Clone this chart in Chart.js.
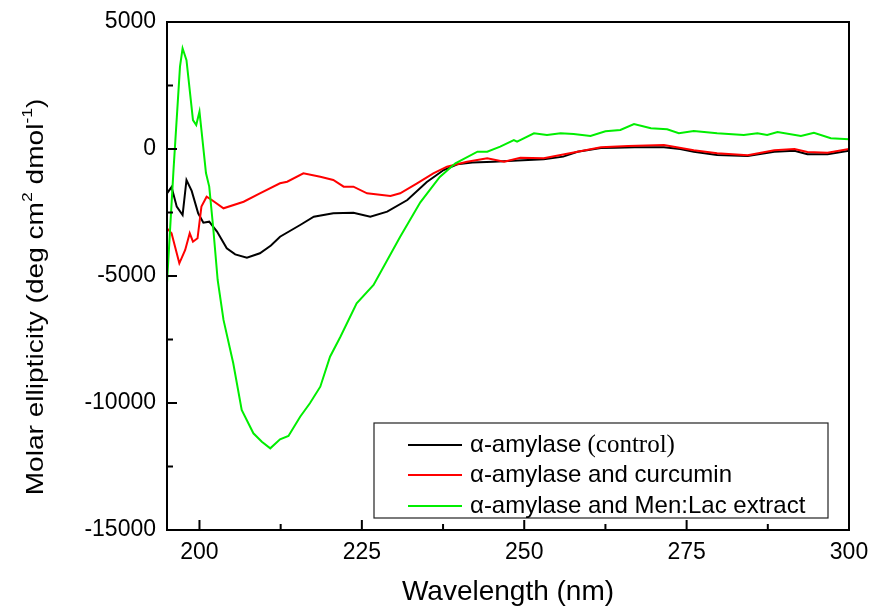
<!DOCTYPE html>
<html>
<head>
<meta charset="utf-8">
<script src="https://cdn.jsdelivr.net/npm/chart.js@4.4.1/dist/chart.umd.min.js"></script>
<style>
html,body{margin:0;padding:0;background:#fff;}
#wrap{width:872px;height:609px;}
</style>
</head>
<body>
<div id="wrap"><canvas id="c" width="872" height="609"></canvas></div>
<script>
// ---- data ----
const controlX = [195.0,195.7,196.5,197.4,198.0,198.8,199.8,200.6,201.5,202.7,204.2,205.5,207.3,209.3,211.0,212.4,215.5,217.6,220.6,223.7,226.3,228.9,232.0,235.0,237.6,239.7,242.0,245.3,249.0,253.0,256.0,258.2,261.8,264.0,267.0,271.5,274.0,276.1,279.7,284.4,288.5,291.6,293.6,296.7,300.0];
const controlY = [-1744,-1500,-2270,-2598,-1220,-1650,-2532,-2900,-2862,-3250,-3909,-4150,-4279,-4106,-3800,-3452,-2992,-2665,-2532,-2508,-2665,-2468,-2008,-1300,-827,-600,-530,-500,-450,-407,-300,-106,40,50,67,67,0,-106,-236,-276,-106,-67,-209,-209,-67];

const curcuminX = [195.0,195.7,196.9,197.8,198.5,199.0,199.7,200.3,201.1,201.9,203.7,206.8,209.3,212.4,213.5,216.0,218.6,220.6,222.2,223.7,225.8,229.4,230.9,233.5,236.0,238.1,241.2,244.3,246.9,249.4,253.0,258.2,261.8,266.0,271.5,276.1,279.7,284.4,288.5,291.6,293.6,296.7,300.0];
const curcuminY = [-3122,-3319,-4500,-3976,-3319,-3650,-3516,-2270,-1878,-2008,-2335,-2075,-1744,-1350,-1287,-957,-1090,-1220,-1484,-1484,-1744,-1850,-1744,-1350,-957,-697,-500,-367,-500,-342,-367,-106,67,120,157,-50,-170,-250,-50,0,-120,-150,0];

const menlacX = [195.0,196.0,197.0,197.4,198.0,199.0,199.5,200.0,200.3,201.0,201.5,202.1,202.8,203.7,205.2,206.5,208.3,209.6,210.9,212.4,213.7,215.5,217.0,218.6,220.1,221.7,224.2,226.8,230.9,234.0,235.5,237.0,239.4,242.8,244.3,246.3,248.4,248.9,251.5,253.5,255.6,257.6,260.2,262.5,264.8,266.9,269.5,272.0,273.8,276.1,279.7,283.8,285.9,287.4,289.0,292.6,294.6,297.2,300.0];
const menlacY = [-5275,-830,3240,3965,3500,1140,945,1470,750,-945,-1480,-3060,-5157,-6730,-8437,-10276,-11193,-11523,-11784,-11430,-11299,-10540,-10012,-9358,-8177,-7390,-6075,-5350,-3452,-2100,-1600,-1100,-563,-106,-106,91,354,287,618,551,618,590,512,700,748,984,814,774,618,709,618,551,618,551,669,512,642,421,382];

const seriesNames = ['\u03b1-amylase', '\u03b1-amylase and curcumin', '\u03b1-amylase and Men:Lac extract'];
const seriesSuffix = [' (control)', '', ''];
const seriesColors = ['#000000', '#ff0000', '#00ee00'];

const xTicks = [200, 225, 250, 275, 300];
const xMinorTicks = [212.5, 237.5, 262.5, 287.5];
const yTicks = [5000, 0, -5000, -10000, -15000];
const yMinorTicks = [2500, -2500, -7500, -12500];

const SANS = '"Liberation Sans", Arial, sans-serif';
const SERIF = '"Liberation Serif", "Times New Roman", serif';

function pts(xs, ys){ return xs.map((x,i)=>({x:x, y:ys[i]})); }

const framePlugin = {
  id: 'frame',
  afterDatasetsDraw(chart){
    const ctx = chart.ctx, a = chart.chartArea;
    const xs = chart.scales.x, ys = chart.scales.y;
    ctx.save();
    ctx.strokeStyle = '#000';
    ctx.lineWidth = 2;
    ctx.strokeRect(a.left, a.top, a.right - a.left, a.bottom - a.top);
    ctx.beginPath();
    xTicks.forEach(v=>{ const p = xs.getPixelForValue(v); ctx.moveTo(p, a.bottom); ctx.lineTo(p, a.bottom - 10); });
    xMinorTicks.forEach(v=>{ const p = xs.getPixelForValue(v); ctx.moveTo(p, a.bottom); ctx.lineTo(p, a.bottom - 6); });
    yTicks.forEach(v=>{ const p = ys.getPixelForValue(v); ctx.moveTo(a.left, p); ctx.lineTo(a.left + 10, p); });
    yMinorTicks.forEach(v=>{ const p = ys.getPixelForValue(v); ctx.moveTo(a.left, p); ctx.lineTo(a.left + 6, p); });
    ctx.stroke();

    // legend box
    const bx = 374, by = 423, bw = 454, bh = 95;
    ctx.fillStyle = '#fff';
    ctx.fillRect(bx, by, bw, bh);
    ctx.lineWidth = 1.2;
    ctx.strokeStyle = '#222';
    ctx.strokeRect(bx, by, bw, bh);
    const rowsY = [445, 475, 506];
    ctx.textBaseline = 'middle';
    for (let i = 0; i < 3; i++){
      ctx.strokeStyle = seriesColors[i];
      ctx.lineWidth = 2;
      ctx.beginPath(); ctx.moveTo(408, rowsY[i]); ctx.lineTo(462, rowsY[i]); ctx.stroke();
      ctx.fillStyle = '#000';
      ctx.font = '24px ' + SANS;
      ctx.fillText(seriesNames[i], 470, rowsY[i]);
      if (seriesSuffix[i]){
        const w = ctx.measureText(seriesNames[i]).width;
        ctx.font = '25px ' + SERIF;
        ctx.fillText(seriesSuffix[i], 470 + w, rowsY[i]);
      }
    }

    // y axis title with superscripts
    const parts = [
      {t:'Molar ellipticity (deg cm', sup:false},
      {t:'2', sup:true},
      {t:' dmol', sup:false},
      {t:'-1', sup:true},
      {t:')', sup:false}
    ];
    const big = '24px ' + SANS, small = '15px ' + SANS;
    let total = 0;
    parts.forEach(p=>{ ctx.font = p.sup ? small : big; p.w = ctx.measureText(p.t).width; total += p.w; });
    ctx.translate(34, 297);
    ctx.rotate(-Math.PI/2);
    ctx.scale(1.17, 1);
    ctx.fillStyle = '#000';
    ctx.textBaseline = 'alphabetic';
    let cx = -total/2;
    parts.forEach(p=>{
      ctx.font = p.sup ? small : big;
      ctx.fillText(p.t, cx, p.sup ? -2 : 9);
      cx += p.w;
    });
    ctx.restore();
  }
};

new Chart(document.getElementById('c'), {
  type: 'line',
  data: {
    datasets: [
      {label: seriesNames[0] + seriesSuffix[0], data: pts(controlX, controlY), borderColor: seriesColors[0], borderWidth: 2, pointRadius: 0, tension: 0, order: 2},
      {label: seriesNames[1], data: pts(curcuminX, curcuminY), borderColor: seriesColors[1], borderWidth: 2, pointRadius: 0, tension: 0, order: 1},
      {label: seriesNames[2], data: pts(menlacX, menlacY), borderColor: seriesColors[2], borderWidth: 2, pointRadius: 0, tension: 0, order: 0}
    ]
  },
  options: {
    responsive: false,
    animation: false,
    layout: {padding: {left: 0, right: 23, top: 22, bottom: 0}},
    plugins: {legend: {display: false}, tooltip: {enabled: false}},
    scales: {
      x: {
        type: 'linear', min: 195, max: 300,
        afterBuildTicks: s => { s.ticks = xTicks.map(v=>({value:v})); },
        afterFit: s => { s.height = 79; s.paddingLeft = 0; s.paddingRight = 0; },
        grid: {display: false, drawTicks: false},
        border: {display: false},
        ticks: {color: '#000', font: {size: 23, family: SANS}, padding: 9, maxRotation: 0, callback: v => String(v)},
        title: {display: true, text: 'Wavelength (nm)', color: '#000', font: {size: 28, family: SANS}, padding: {top: 0, bottom: 0}}
      },
      y: {
        type: 'linear', min: -15000, max: 5000,
        afterBuildTicks: s => { s.ticks = yTicks.map(v=>({value:v})); },
        afterFit: s => { s.width = 167; s.paddingTop = 0; s.paddingBottom = 0; },
        grid: {display: false, drawTicks: false},
        border: {display: false},
        ticks: {color: '#000', font: {size: 23, family: SANS}, padding: 11, callback: v => String(v)},
        title: {display: false}
      }
    }
  },
  plugins: [framePlugin]
});
</script>
</body>
</html>
